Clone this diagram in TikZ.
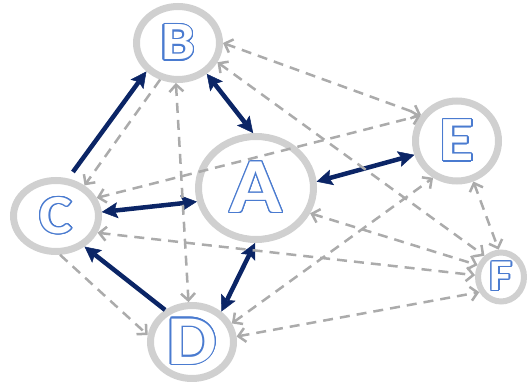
\documentclass[tikz,border=0pt]{standalone}
\usepackage{fontspec}
\newfontfamily\lettfont{Carlito}[BoldFont={Carlito Bold}]
\usepackage[copies]{contour}
\contourlength{1.2pt}
\usetikzlibrary{arrows.meta,shapes.geometric}
\definecolor{navy}{HTML}{0B2566}
\definecolor{ringgray}{HTML}{D0D0D0}
\definecolor{dashgray}{HTML}{ABABAB}
\definecolor{lblue}{HTML}{4A7BD0}
\newcommand\lett[2]{\scalebox{1.12}[1]{\fontsize{#1}{#1}\lettfont\bfseries\color{white}\contour{lblue}{#2}}}
\tikzset{
  ringnode/.style={ellipse, draw=ringgray, line width=7pt, fill=white, inner sep=0pt},
  solidarr/.style={draw=navy, line width=4.5pt, -{Stealth[length=16pt,width=16pt,inset=3pt,line width=0.5pt]}},
  soliddbl/.style={draw=navy, line width=4.5pt, {Stealth[length=16pt,width=16pt,inset=3pt,line width=0.5pt]}-{Stealth[length=16pt,width=16pt,inset=3pt,line width=0.5pt]}},
  dasharr/.style={draw=dashgray, line width=2.5pt, dash pattern=on 10pt off 7pt, -{Straight Barb[length=7pt,width=14pt]}},
  dashdbl/.style={draw=dashgray, line width=2.5pt, dash pattern=on 10pt off 7pt, {Straight Barb[length=7pt,width=14pt]}-{Straight Barb[length=7pt,width=14pt]}}
}
\begin{document}
\begin{tikzpicture}[x=1pt,y=-1pt]
\useasboundingbox (0,0) rectangle (527,382);
\node[ringnode, minimum width=115pt, minimum height=103pt] (A) at (256,188) {\lett{78}{A}};
\node[ringnode, minimum width=83pt, minimum height=73pt] (B) at (178,43) {\lett{54}{B}};
\node[ringnode, minimum width=85pt, minimum height=71pt] (C) at (56,216) {\lett{55}{C}};
\node[ringnode, minimum width=83pt, minimum height=73pt] (D) at (192,342) {\lett{70}{D}};
\node[ringnode, minimum width=83pt, minimum height=80pt] (E) at (457,141) {\lett{63}{E}};
\node[ringnode, line width=6pt, minimum width=46pt, minimum height=49pt] (F) at (501,277) {\lett{44}{F}};
% solid
\draw[solidarr, shorten <=8pt] (C.72) -- (B.222);
\draw[soliddbl] (B.313) -- (A.93);
\draw[soliddbl] (C.5) -- (A.193);
\draw[soliddbl] (A.6) -- (E.198);
\draw[solidarr] (D.130) -- (C.313);
\draw[soliddbl] (A.269) -- (D.46);
% dashed
\draw[dasharr] (B.244) -- (C.47);
\draw[dashdbl] (B.267) -- (D.95);
\draw[dashdbl] (B.0) -- (E.144);
\draw[dashdbl] (B.334) -- (F.128);
\draw[dashdbl] (C.24) -- (E.145);
\draw[dashdbl] (C.338) -- (F.176);
\draw[dasharr] (C.276) -- (D.171);
\draw[dashdbl] (D.25) -- (E.237);
\draw[dashdbl] (D.7) -- (F.215);
\draw[dashdbl] (E.292) -- (F.95);
\draw[dashdbl] (A.335) -- (F.153);
\end{tikzpicture}
\end{document}
